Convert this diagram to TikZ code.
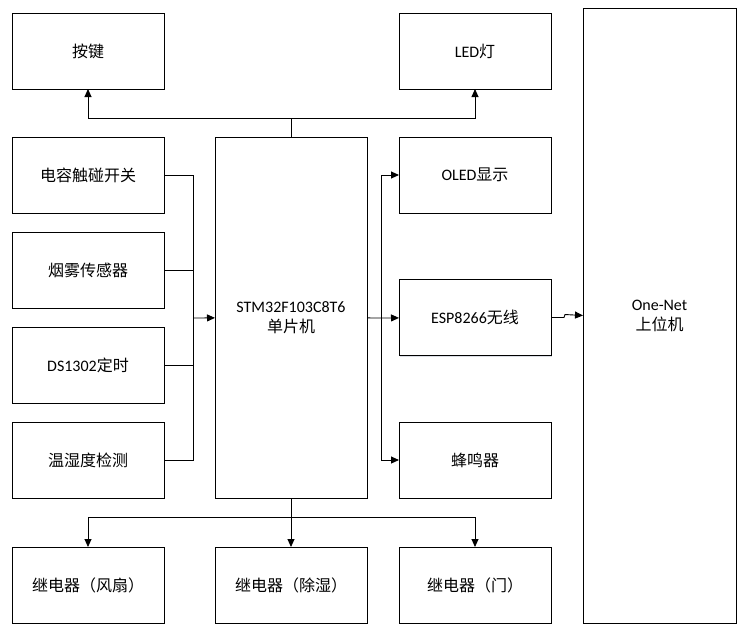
\documentclass[tikz,border=0pt]{standalone}
\usepackage{fontspec}
\setmainfont{Carlito}
\newfontfamily\cjk{Noto Sans CJK SC}
\newcommand{\zh}[1]{{\cjk #1}}
\usepackage{tikz}
\usetikzlibrary{arrows.meta,positioning,shadows}
\definecolor{BoxLine}{RGB}{0,0,0}
\definecolor{ShadowGray}{RGB}{150,160,180}

\begin{document}
\begin{tikzpicture}[x=1pt,y=-1pt,
        box/.style={draw=BoxLine,fill=white,line width=1pt,outer sep=0pt,
                    font=\fontsize{16pt}{20pt}\selectfont,inner sep=2pt,
                    minimum width=152pt,minimum height=76pt,align=center,
                    drop shadow={shadow xshift=1.2pt,shadow yshift=-1.2pt,
                                 fill=ShadowGray,opacity=0.35}},
        tallbox/.style={box,minimum height=361pt},
        arr/.style={-{Triangle[length=8pt,width=7pt]},line width=0.9pt},
        wire/.style={line width=0.9pt}
      ]
        \useasboundingbox (0,0) rectangle (749,633);
        % left column
        \node[box] (key) at (88,51) {\zh{按键}};
        \node[box,below=48pt of key] (touch) {\zh{电容触碰开关}};
        \node[box,below=19pt of touch] (smoke) {\zh{烟雾传感器}};
        \node[box,below=19pt of smoke] (clock) {DS1302\zh{定时}};
        \node[box,below=19pt of clock] (humid) {\zh{温湿度检测}};
        % controller
        \node[tallbox,right=51pt of touch.north east,anchor=north west] (mcu)
             {STM32F103C8T6\\\zh{单片机}};
        % right column
        \node[box,right=32pt of mcu.north east,anchor=north west] (oled) {OLED\zh{显示}};
        \node[box,above=48pt of oled] (led) {LED\zh{灯}};
        \node[box,right=32pt of mcu] (esp) {ESP8266\zh{无线}};
        \node[box,right=32pt of mcu.south east,anchor=south west] (buzzer) {\zh{蜂鸣器}};
        % relays
        \node[box,below=49pt of humid] (relayA) {\zh{继电器（风扇）}};
        \node[box,below=49pt of mcu] (relayB) {\zh{继电器（除湿）}};
        \node[box,below=49pt of buzzer] (relayC) {\zh{继电器（门）}};
        % host
        \node[box,minimum width=153pt,minimum height=615pt] (net) at (659.5,315.5)
             {One-Net\\\zh{上位机}};
        % bus points
        \coordinate (tb) at (291,118);
        \coordinate (lb) at (193,318);
        \coordinate (rb) at (381,318);
        \coordinate (bb) at (291,517);
        % outputs on top
        \draw[wire] (mcu.north) -- (tb);
        \draw[arr] (tb) -| (key.south);
        \draw[arr] (tb) -| (led.south);
        % inputs
        \draw[wire] (touch.east) -| (lb);
        \draw[wire] (smoke.east) -| (lb);
        \draw[wire] (clock.east) -| (lb);
        \draw[wire] (humid.east) -| (lb);
        \draw[arr] (lb) -- (mcu);
        % outputs on the right
        \draw[wire] (mcu) -- (rb);
        \draw[arr] (rb) |- (oled.west);
        \draw[arr] (rb) -- (esp);
        \draw[arr] (rb) |- (buzzer.west);
        \draw[wire] (oled.west -| rb) -- (buzzer.west -| rb);
        \draw[arr] (esp.east) -- ++(13,0) -- ++(1,-3) -- (net.west);
        % relays
        \draw[arr] (mcu.south) -- (relayB.north);
        \draw[arr] (bb) -| (relayA.north);
        \draw[arr] (bb) -| (relayC.north);
      \end{tikzpicture}
\end{document}
